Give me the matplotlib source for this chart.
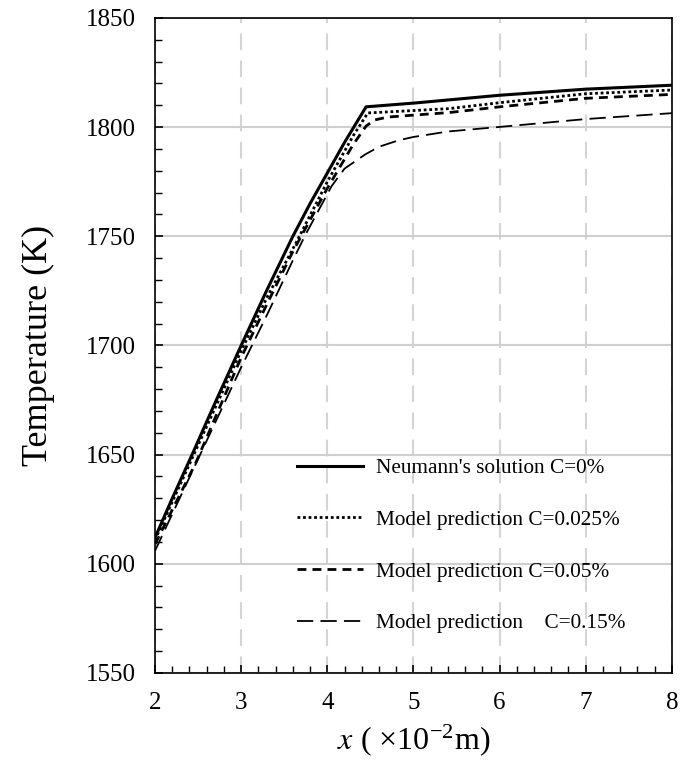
import matplotlib.pyplot as plt
from matplotlib.ticker import MultipleLocator

plt.rcParams['font.family'] = ['Liberation Serif', 'DejaVu Serif']
plt.rcParams['mathtext.fontset'] = 'stix'

# data (x in 10^-2 m, T in K)
x_neumann = [2.0, 2.2, 2.43, 2.7, 3.0, 3.3, 3.6, 3.8, 4.0, 4.2, 4.45, 5.0, 5.5, 6.0, 7.0, 8.0]
t_neumann = [1612, 1630, 1650, 1674, 1700, 1725.5, 1750, 1765, 1779, 1793, 1809.3, 1811, 1812.8, 1814.6, 1817.4, 1819.2]

x_c025 = [2.0, 2.45, 3.0, 3.3, 3.65, 4.0, 4.3, 4.47, 5.0, 5.42, 6.0, 7.0, 8.0]
t_c025 = [1611, 1650, 1697.5, 1722, 1748, 1775, 1796, 1806.5, 1807.6, 1808.5, 1811.2, 1815.3, 1817]

x_c05 = [2.0, 2.47, 3.0, 3.3, 3.6, 4.0, 4.3, 4.45, 4.55, 4.7, 5.0, 5.42, 6.0, 7.0, 8.0]
t_c05 = [1609, 1646, 1694.5, 1719, 1743, 1772, 1792, 1800.5, 1803.3, 1804.6, 1805.5, 1806.7, 1809.3, 1813.2, 1815]

x_c15 = [2.0, 2.5, 3.0, 3.3, 3.6, 3.75, 4.05, 4.2, 4.44, 4.6, 4.83, 5.0, 5.4, 6.0, 7.0, 8.0]
t_c15 = [1606, 1648, 1690, 1714, 1739, 1751, 1773, 1781, 1787.5, 1791, 1794, 1795.5, 1798, 1800.1, 1803.7, 1806.4]

labels = ["Neumann's solution C=0%",
          "Model prediction C=0.025%",
          "Model prediction C=0.05%",
          "Model prediction    C=0.15%"]

fig = plt.figure(figsize=(6.8, 7.65), dpi=100)
ax = fig.add_axes([0.228, 0.1203, 0.760, 0.8562])

ax.plot(x_neumann, t_neumann, color='black', lw=2.2, ls='-', label=labels[0])
ax.plot(x_c025, t_c025, color='black', lw=2.0, ls=(0, (1, 1)), label=labels[1])
ax.plot(x_c05, t_c05, color='black', lw=2.0, ls=(0, (3.2, 2.2)), label=labels[2])
ax.plot(x_c15, t_c15, color='black', lw=1.3, ls=(0, (9, 4)), label=labels[3])

ax.set_xlim(2, 8)
ax.set_ylim(1550, 1850)
ax.xaxis.set_major_locator(MultipleLocator(1))
ax.xaxis.set_minor_locator(MultipleLocator(0.2))
ax.yaxis.set_major_locator(MultipleLocator(50))
ax.yaxis.set_minor_locator(MultipleLocator(10))

ax.tick_params(which='both', direction='in', top=False, right=False, labelsize=18)
ax.tick_params(which='major', length=6, width=1.2, pad=14)
ax.tick_params(which='minor', length=5, width=1.0)

ax.grid(axis='y', which='major', color='#cfcfcf', lw=1.5, ls='-')
ax.grid(axis='x', which='major', color='#d4d4d4', lw=1.5, ls=(0, (8, 5)))
ax.set_axisbelow(True)

for s in ax.spines.values():
    s.set_linewidth(1.2)
    s.set_color('black')

ax.set_ylabel('Temperature (K)', fontsize=26, labelpad=22)
ax.set_xlabel(r'$x$ ( ×10$^{\mathregular{-2}}$m)', fontsize=23, labelpad=6)

ax.legend(loc='upper left', bbox_to_anchor=(0.275, 0.328), frameon=False,
          fontsize=15.3, handlelength=3.1, handletextpad=0.6, labelspacing=1.5,
          borderpad=0, borderaxespad=0)

plt.savefig('out.png', dpi=100)
